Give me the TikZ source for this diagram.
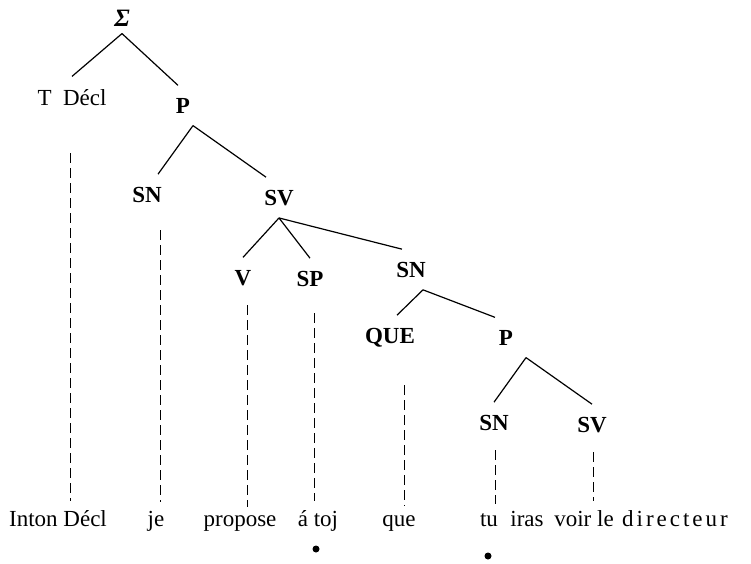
\documentclass[tikz,border=0pt]{standalone}
\usepackage{fontspec}
\setmainfont{Liberation Serif}

\tikzset{
  label/.style={anchor=base,inner xsep=2pt,inner ysep=12pt,font=\fontsize{23}{28}\selectfont\bfseries},
  word/.style={anchor=base,inner sep=8pt,font=\fontsize{23}{28}\selectfont},
  dropline/.style={dash pattern=on 10pt off 5pt,line width=1pt},
}

\begin{document}
\begin{tikzpicture}[x=1pt,y=-1pt,line width=1.2pt]
            \useasboundingbox (0,0) rectangle (751,563);
            % categories of the tree
            \begin{scope}[every node/.style={label}]
                \node[inner ysep=7pt,font=\fontsize{25}{28}\selectfont\bfseries\itshape] (S) at (122,26) {Σ};
                \node[font=\fontsize{23}{28}\selectfont] (Tdecl) at (72,105) {T\enspace Décl};
                \node (P) at (183,113) {P};

                \node (SN) at (147,202) {SN};
                \node (SV) at (279,205) {SV};

                \node (V) at (243,285) {V};
                \node (SP) at (310,286) {SP};
                \node (SNb) at (411,277) {SN};

                \node (QUE) at (390,343) {QUE};
                \node (Pb) at (506,345) {P};

                \node (SNc) at (494,430) {SN};
                \node (SVc) at (592,432) {SV};
            \end{scope}
            % the sentence
            \begin{scope}[every node/.style={word}]
                \node (inton) at (58,526) {Inton Décl};
                \node (je) at (156,526) {je};
                \node (propose) at (240,526) {propose};
                \node (atoi) at (318,526) {á toj};
                \node (que) at (399,526) {que};
                \node (tu) at (489,526) {tu};
                \node (iras) at (527,526) {iras};
                \node (voirle) at (584,526) {voir le};
                \node (dir) at (675,526) {\addfontfeature{LetterSpace=13}directeur};
            \end{scope}
                \path (S.south) edge (Tdecl.north);
                \path (S.south) edge ([xshift=-5pt]P.north);
                \path ([xshift=10pt]P.south) edge ([xshift=11pt]SN.north);
                \path ([xshift=10pt]P.south) edge ([xshift=-13pt]SV.north);
                \path (SV.south) edge (V.north);
                \path (SV.south) edge (SP.north);
                \path (SV.south) edge ([xshift=-9pt]SNb.north);
                \path ([xshift=12pt]SNb.south) edge ([xshift=7pt]QUE.north);
                \path ([xshift=12pt]SNb.south) edge ([xshift=-11pt]Pb.north);
                \path ([xshift=20pt]Pb.south) edge (SNc.north);
                \path ([xshift=20pt]Pb.south) edge (SVc.north);
            % dashed drops down to the words
            \coordinate (dTdecl) at (70,153);
            \coordinate (dSN) at (160,230);
            \coordinate (dV) at (247,305);
            \coordinate (dSP) at (314,313);
            \coordinate (dQUE) at (404,385);
            \coordinate (dSNc) at (495,450);
            \coordinate (dSVc) at (593,452);
                \path[dropline] (dTdecl) edge (dTdecl |- inton.north);
                \path[dropline] (dSN) edge (dSN |- je.north);
                \path[dropline] (dV) edge (dV |- propose.north);
                \path[dropline] (dSP) edge (dSP |- atoi.north);
                \path[dropline] (dQUE) edge (dQUE |- que.north);
                \path[dropline] (dSNc) edge (dSNc |- tu.north);
                \path[dropline] (dSVc) edge (dSVc |- voirle.north);
            % the two dots under the words
            \fill (316,549) circle (3.5pt);
            \fill (488,556) circle (3.5pt);
\end{tikzpicture}
\end{document}
